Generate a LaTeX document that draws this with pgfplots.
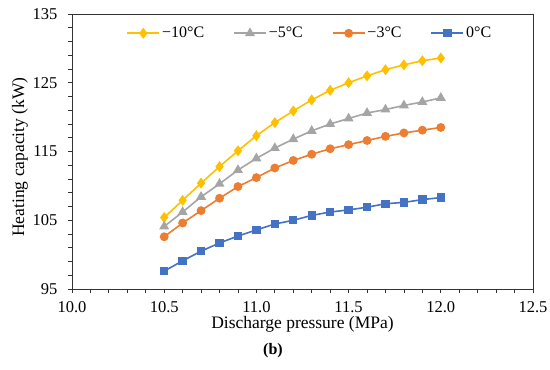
\documentclass[border=0pt]{standalone}
\usepackage{pgfplots}
\pgfplotsset{compat=1.18}
\usepackage{fontspec}
\setmainfont{Liberation Serif}
\definecolor{cYel}{HTML}{FFC000}
\definecolor{cGry}{HTML}{A5A5A5}
\definecolor{cOra}{HTML}{ED7D31}
\definecolor{cBlu}{HTML}{4472C4}
\begin{document}
\begin{tikzpicture}
\useasboundingbox (-72pt,-81pt) rectangle (478pt,289pt);
\begin{axis}[
  scale only axis,
  width=461pt, height=275pt,
  xmin=10, xmax=12.5, ymin=95, ymax=135,
  xtick={10,10.5,...,12.5}, ytick={95,105,...,135},
  minor x tick num=4, minor y tick num=4,
  xtick pos=bottom, ytick pos=left,
  tick align=outside,
  major tick length=4pt, minor tick length=4pt,
  every tick/.style={black!80, line width=0.8pt},
  axis line style={black!80, line width=0.8pt},
  /pgf/number format/assume math mode=true,
  xticklabel style={/pgf/number format/.cd, fixed, fixed zerofill, precision=1, /tikz/.cd, yshift=-5pt},
  yticklabel style={xshift=-7pt},
  ticklabel style={font=\fontsize{16.5}{17}\selectfont},
  xlabel={Discharge pressure (MPa)},
  ylabel={Heating capacity (kW)},
  label style={font=\fontsize{17.5}{18}\selectfont},
  xlabel style={at={(axis description cs:0.5,0)}, anchor=center, yshift=-35pt},
  ylabel style={at={(axis description cs:-0.113,0.48)}, anchor=center},
  legend style={at={(0.516,0.93)}, anchor=center, draw=none, fill=none,
    legend columns=4, font=\fontsize{16}{16}\selectfont,
    /tikz/every even column/.append style={column sep=27pt}},
  legend image code/.code={\draw[mark repeat=2,mark phase=2,#1] plot coordinates {(0pt,0pt) (16pt,0pt) (32pt,0pt)};},
  every axis plot/.append style={line width=1.6pt},
]
\addplot[color=cYel, mark=diamond*, mark size=4.2pt, mark options={solid}] coordinates {
(10.5,105.4)(10.6,107.9)(10.7,110.4)(10.8,112.8)(10.9,115.1)(11.0,117.3)(11.1,119.2)(11.2,120.9)
(11.3,122.5)(11.4,123.9)(11.5,125.0)(11.6,126.0)(11.7,126.9)(11.8,127.6)(11.9,128.2)(12.0,128.6)};
\addlegendentry{−10°C}
\addplot[color=cGry, mark=triangle*, mark size=4.2pt] coordinates {
(10.5,104.1)(10.6,106.2)(10.7,108.4)(10.8,110.3)(10.9,112.3)(11.0,114.0)(11.1,115.5)(11.2,116.8)
(11.3,118.0)(11.4,119.0)(11.5,119.8)(11.6,120.6)(11.7,121.1)(11.8,121.7)(11.9,122.2)(12.0,122.8)};
\addlegendentry{−5°C}
\addplot[color=cOra, mark=*, mark size=3.6pt] coordinates {
(10.5,102.6)(10.6,104.6)(10.7,106.4)(10.8,108.2)(10.9,109.9)(11.0,111.2)(11.1,112.6)(11.2,113.7)
(11.3,114.6)(11.4,115.4)(11.5,116.0)(11.6,116.6)(11.7,117.2)(11.8,117.7)(11.9,118.1)(12.0,118.5)};
\addlegendentry{−3°C}
\addplot[color=cBlu, mark=square*, mark size=3.4pt] coordinates {
(10.5,97.6)(10.6,99.1)(10.7,100.5)(10.8,101.7)(10.9,102.7)(11.0,103.6)(11.1,104.45)(11.2,105.0)
(11.3,105.7)(11.4,106.2)(11.5,106.5)(11.6,106.9)(11.7,107.4)(11.8,107.6)(11.9,108.0)(12.0,108.3)};
\addlegendentry{0°C}
\end{axis}
\node[font=\bfseries\fontsize{16}{16}\selectfont] at (201pt,-62pt) {(b)};
\end{tikzpicture}
\end{document}
